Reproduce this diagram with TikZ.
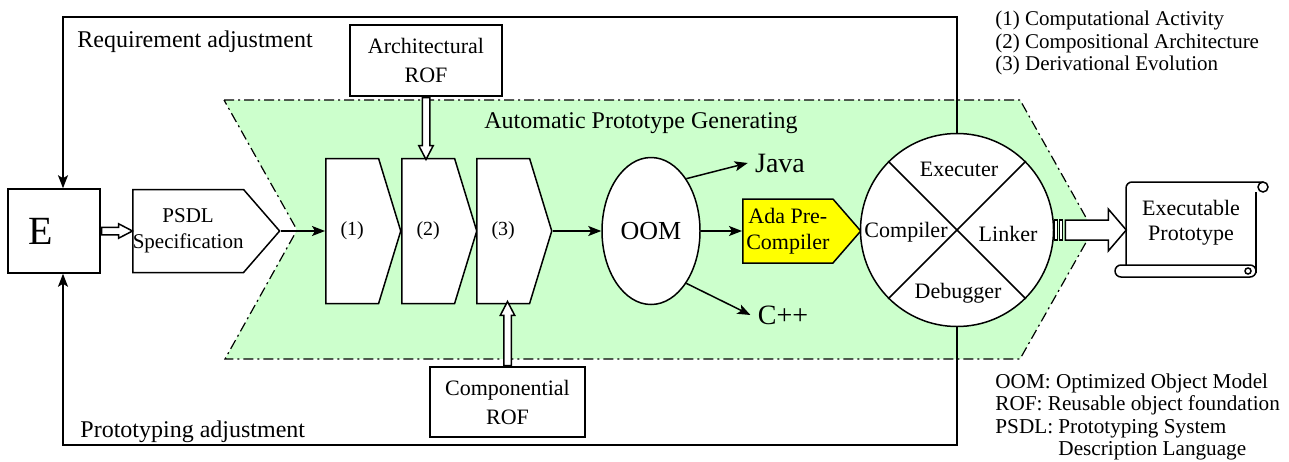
\documentclass[tikz,border=0pt]{standalone}
\usepackage{fontspec}
\setmainfont{Liberation Serif}
\usetikzlibrary{shapes.symbols,shapes.arrows,shapes.geometric,arrows.meta,calc}

\definecolor{zonegreen}{HTML}{CCFFCC}
\definecolor{adayellow}{HTML}{FFFF00}

\tikzset{
  every node/.style={font=\fontsize{11}{13}\selectfont},
  box/.style={draw,fill=white,align=center,inner sep=1pt},
  blk/.style={draw,fill=white,signal,signal to=east,signal pointer angle=146,
    minimum width=37.5pt,minimum height=72.5pt,inner sep=0pt,anchor=west,
    font=\fontsize{10}{12}\selectfont},
  pent/.style={draw,signal,signal to=east,signal pointer angle=98,align=center,
    inner sep=0pt,anchor=west},
  hollowarr/.style={single arrow,draw,fill=white,inner sep=1.5pt,anchor=tail,
    single arrow head extend=1.75pt,single arrow tip angle=55},
  conn/.style={-{Stealth[length=6.5pt,width=5pt,inset=1.5pt]}},
  zone/.style={fill=zonegreen,draw,line width=0.6pt,
    dash pattern=on 5pt off 2pt on 1pt off 2pt},
}

\begin{document}
\begin{tikzpicture}[x=0.5pt,y=-0.5pt,line width=0.75pt]
  \useasboundingbox (0,0) rectangle (1289,461);
  % generating zone
  \path[zone] (224,100) -- (1020,100) -- (1093,230) -- (1020,359)
    -- (225,359) -- (297,230) -- cycle;
  \node[font=\fontsize{12}{14}\selectfont] (apg) at (641,123) {Automatic Prototype Generating};

  % left part
  \node[draw,minimum width=46pt,minimum height=42pt] (e) at (54,231) {};
  \node[font=\fontsize{20}{24}\selectfont] (etxt) at (41,231) {E};
  \node[pent,fill=white,minimum width=72pt,minimum height=41.5pt,
    font=\fontsize{10.5}{13}\selectfont] (psdl) at (132,231) {PSDL\\Specification};

  % the three steps
  \node[blk] (b1) at (325,231) {(1)};
  \node[blk] (b2) at (401,231) {(2)};
  \node[blk] (b3) at (476,231) {(3)};

  \node[box,minimum width=76pt,minimum height=35.5pt,font=\fontsize{11}{14.5}\selectfont]
    (arch) at (426,60.5) {Architectural\\ROF};
  \node[box,minimum width=77.5pt,minimum height=35pt,font=\fontsize{11}{14.5}\selectfont]
    (comp) at (507.5,402) {Componential\\ROF};

  % object model and targets
  \node[draw,fill=white,ellipse,minimum width=49pt,minimum height=73.5pt,inner sep=0pt,
    font=\fontsize{13}{15}\selectfont] (oom) at (651,231) {OOM};
  \node[font=\fontsize{14}{16}\selectfont] (java) at (780,163) {Java};
  \node[font=\fontsize{14}{16}\selectfont] (cpp) at (783,315) {C++};
  \node[pent,fill=adayellow,minimum width=59pt,minimum height=32pt] (ada) at (742,231) {Ada Pre-\\Compiler};

  % tool circle
  \node[draw,fill=white,circle,minimum size=96.5pt,inner sep=0pt] (cpu) at (957,230) {};
  \draw (cpu.north west) -- (cpu.south east);
  \draw (cpu.north east) -- (cpu.south west);
  \node (exe) at (959,169) {Executer};
  \node (cmp) at (906,232) {Compiler};
  \node (lnk) at (1008,234) {Linker};
  \node (dbg) at (958,293) {Debugger};

  % executable prototype (scroll)
  \coordinate (pc) at (1191,223);
  \begin{scope}[shift={(pc)}]
    \draw[fill=white,rounded corners=3pt] (-65,42) -- (-65,-41) -- (72,-41);
    \draw (65,-31) -- (65,50);
    \draw (72,-36) circle (2.5pt);
    \draw[fill=white,rounded corners=3pt] (-76,42) rectangle (65,54);
    \draw (57,48) circle (1.5pt);
  \end{scope}
  \node[minimum width=65.5pt,minimum height=42pt,align=center,
    font=\fontsize{11}{12.5}\selectfont] (proto) at (pc) {Executable\\Prototype};

  % block arrow to the prototype
  \begin{scope}[shift={(cpu.east)}]
    \draw[fill=white] (0,-10) rectangle (3,10);
    \draw[fill=white] (5,-10) rectangle (8,10);
    \draw[fill=white] (11,-10) -- (54,-10) -- (54,-21) -- (72,0) -- (54,21)
      -- (54,10) -- (11,10) -- cycle;
  \end{scope}

  % hollow arrows
  \node[hollowarr,minimum height=15.5pt] (earr) at (e.east) {};
  \node[hollowarr,rotate=-90,minimum height=31pt] (aarr) at (arch.south) {};
  \node[hollowarr,rotate=90,minimum height=32pt] (carr) at (comp.north) {};

  % connectors
  \draw[conn] (psdl.east) -- (b1.west);
  \draw[conn] (b3.east) -- (oom.west);
  \draw[conn] (oom.56) -- (java.west);
  \draw[conn] (oom.-56) -- (cpp.west);
  \draw[conn] (oom.east) -- (ada.west);

  % feedback loops
  \coordinate (rq) at (63,17);
  \coordinate (pa) at (63,445);
  \draw[conn] (cpu.north) |- (rq) -- (rq |- e.north);
  \draw[conn] (cpu.south) |- (pa) -- (pa |- e.south);
  \node[anchor=west,font=\fontsize{12}{14}\selectfont] (req) at (70,42) {Requirement adjustment};
  \node[anchor=west,font=\fontsize{12}{14}\selectfont] (pad) at (73,432) {Prototyping adjustment};

  % legends
  \node[anchor=north west,align=left,font=\fontsize{10.5}{11.25}\selectfont] (leg1) at (988,4)
    {(1) Computational Activity\\(2) Compositional Architecture\\(3) Derivational Evolution};
  \node[anchor=north west,align=left,font=\fontsize{10.6}{11.25}\selectfont] (leg2) at (988,366)
    {OOM: Optimized Object Model\\ROF: Reusable object foundation\\PSDL: Prototyping System\\
     \hphantom{PSDL: }Description Language};
\end{tikzpicture}
\end{document}
